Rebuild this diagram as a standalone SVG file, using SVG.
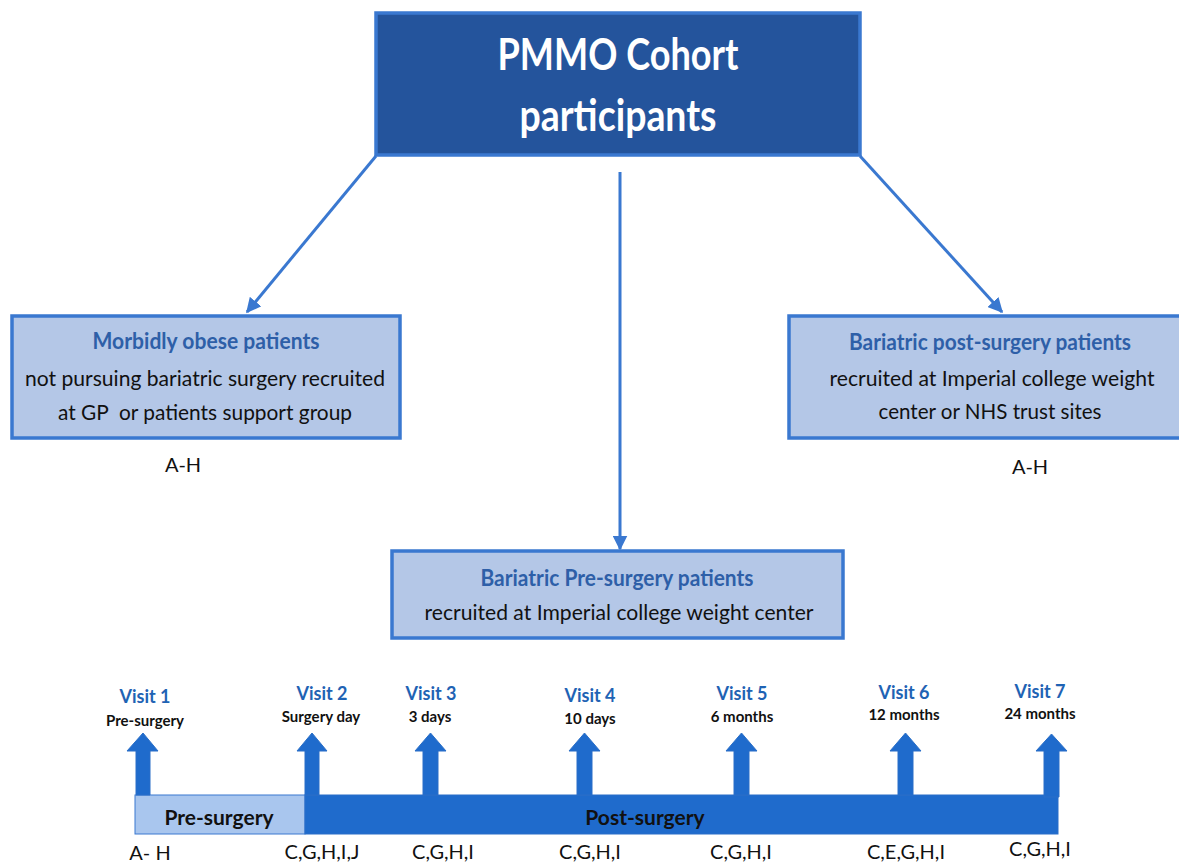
<svg xmlns="http://www.w3.org/2000/svg" width="1179" height="865" viewBox="0 0 1179 865">
<style>
text{font-family:Lato,"Open Sans","Liberation Sans",sans-serif;text-anchor:middle}
.box{fill:#b4c7e7;stroke:#3a78d0;stroke-width:3.5}
.ttl{font-size:22px;font-weight:bold;fill:#2e5fa8}
.bd{font-size:22px;fill:#111}
.conn{stroke:#3a78d0;stroke-width:3;fill:none}
.blk{fill:#1f6bcc;stroke:#2a6fc8;stroke-width:1}
.vis{font-size:18px;font-weight:bold;fill:#1f63b4}
.sub{font-size:15px;font-weight:bold;fill:#111}
.cod{font-size:20px;fill:#111}
</style>
<defs>
<marker id="ah" viewBox="0 0 10 10" refX="9" refY="5" markerWidth="5" markerHeight="5" orient="auto" markerUnits="strokeWidth">
<path d="M0,0 L10,5 L0,10 z" fill="#3a78d0"/>
</marker>
</defs>
<g id="connectors">
<line class="conn" x1="376" y1="156" x2="247" y2="312" marker-end="url(#ah)"/>
<line class="conn" x1="620" y1="172" x2="620" y2="549" marker-end="url(#ah)"/>
<line class="conn" x1="860" y1="156" x2="1002" y2="312" marker-end="url(#ah)"/>
</g>
<g id="cohort">
<rect x="376" y="13" width="484" height="142" fill="#24549c" stroke="#3a78d0" stroke-width="3.5"/>
<text x="618" y="70" font-size="44" font-weight="bold" fill="#fff" textLength="241" lengthAdjust="spacingAndGlyphs">PMMO Cohort</text>
<text x="618" y="131" font-size="44" font-weight="bold" fill="#fff" textLength="197" lengthAdjust="spacingAndGlyphs">participants</text>
</g>
<g id="obese">
<rect class="box" x="12" y="316" width="388" height="122"/>
<text class="ttl" x="206" y="349" textLength="227" lengthAdjust="spacingAndGlyphs">Morbidly obese patients</text>
<text class="bd" x="205" y="386" textLength="360" lengthAdjust="spacingAndGlyphs">not pursuing bariatric surgery recruited</text>
<text class="bd" x="205" y="420" textLength="294" lengthAdjust="spacingAndGlyphs" xml:space="preserve">at GP  or patients support group</text>
<text class="cod" x="183" y="472">A-H</text>
</g>
<g id="post">
<rect class="box" x="789" y="316" width="400" height="122"/>
<text class="ttl" x="990" y="350" textLength="282" lengthAdjust="spacingAndGlyphs">Bariatric post-surgery patients</text>
<text class="bd" x="992" y="386" textLength="325" lengthAdjust="spacingAndGlyphs">recruited at Imperial college weight</text>
<text class="bd" x="990" y="419" textLength="223" lengthAdjust="spacingAndGlyphs">center or NHS trust sites</text>
<text class="cod" x="1030" y="474">A-H</text>
</g>
<g id="pre">
<rect class="box" x="392" y="551" width="451" height="87"/>
<text class="ttl" x="617" y="586" textLength="273" lengthAdjust="spacingAndGlyphs">Bariatric Pre-surgery patients</text>
<text class="bd" x="619" y="620" textLength="389" lengthAdjust="spacingAndGlyphs">recruited at Imperial college weight center</text>
</g>
<g id="timeline">
<rect x="135" y="795" width="170" height="39" fill="#a9c6ee" stroke="#3a78d0" stroke-width="1"/>
<rect x="305" y="795" width="753" height="39" fill="#1f6bcc" stroke="#2a6fc8" stroke-width="1"/>
<text x="219" y="825" font-size="21" font-weight="bold" fill="#111">Pre-surgery</text>
<text x="645" y="825" font-size="21" font-weight="bold" fill="#111">Post-surgery</text>
</g>
<g id="visit1">
<path class="blk" d="M136,795 V751 H127 L143,733 L158,751 H150 V795 z"/>
<text class="vis" x="145" y="703">Visit 1</text>
<text class="sub" x="145" y="726">Pre-surgery</text>
<text class="cod" x="150" y="860">A- H</text>
</g>
<g id="visit2">
<path class="blk" d="M305,795 V751 H297 L312,733 L327,751 H319 V795 z"/>
<text class="vis" x="322" y="700">Visit 2</text>
<text class="sub" x="321" y="722">Surgery day</text>
<text class="cod" x="322" y="859">C,G,H,I,J</text>
</g>
<g id="visit3">
<path class="blk" d="M423,795 V751 H415 L430.5,733 L446,751 H438 V795 z"/>
<text class="vis" x="431" y="700">Visit 3</text>
<text class="sub" x="430" y="722">3 days</text>
<text class="cod" x="443" y="859">C,G,H,I</text>
</g>
<g id="visit4">
<path class="blk" d="M577,795 V751 H569 L584.5,733 L600,751 H592 V795 z"/>
<text class="vis" x="590" y="702">Visit 4</text>
<text class="sub" x="590" y="724">10 days</text>
<text class="cod" x="590" y="859">C,G,H,I</text>
</g>
<g id="visit5">
<path class="blk" d="M734,795 V751 H726 L741.5,733 L757,751 H749 V795 z"/>
<text class="vis" x="742" y="700">Visit 5</text>
<text class="sub" x="742" y="722">6 months</text>
<text class="cod" x="741" y="859">C,G,H,I</text>
</g>
<g id="visit6">
<path class="blk" d="M898,795 V751 H890 L905.5,733 L921,751 H913 V795 z"/>
<text class="vis" x="904" y="699">Visit 6</text>
<text class="sub" x="904" y="720">12 months</text>
<text class="cod" x="906" y="859">C,E,G,H,I</text>
</g>
<g id="visit7">
<path class="blk" d="M1044,797 V751 H1036 L1051.5,734 L1067,751 H1059 V797 z"/>
<text class="vis" x="1040" y="698">Visit 7</text>
<text class="sub" x="1040" y="719">24 months</text>
<text class="cod" x="1040" y="856">C,G,H,I</text>
</g>
</svg>
